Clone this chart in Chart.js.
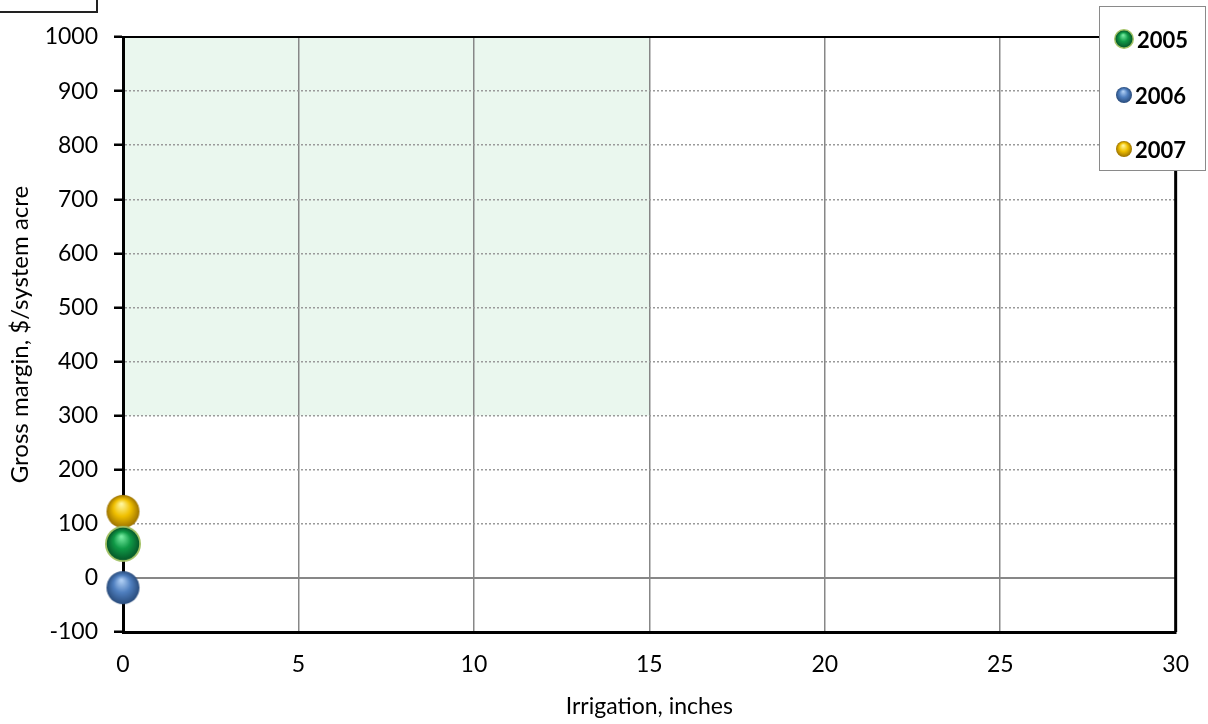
<!DOCTYPE html>
<html>
<head>
<meta charset="utf-8">
<script src="https://cdn.jsdelivr.net/npm/chart.js@4"></script>
<style>
  body { margin: 0; background: #fff; }
  #wrap { position: relative; width: 1208px; height: 724px; overflow: hidden; }
  #corner { position: absolute; left: -3px; top: -3px; width: 97px; height: 12px; border: 2px solid #222; }
  #legend { position: absolute; left: 1099px; top: 6px; width: 105px; height: 163px; border: 1.5px solid #8a8a8a; background: #fff; }
  .row { position: absolute; left: 0; height: 24px; display: flex; align-items: center; font: bold 22px Lato, sans-serif; color: #000; }
  .row canvas { margin-right: 2px; }
</style>
</head>
<body>
<div id="wrap">
  <canvas id="chart" width="1208" height="724"></canvas>
  <div id="corner"></div>
  <div id="legend"></div>
</div>
<script>
const years = ['2005', '2006', '2007'];
const irrigation = [0, 0, 0];
const grossMargin = [63, -18, 123];
const xTicks = [0, 5, 10, 15, 20, 25, 30];
const yTicks = [-100, 0, 100, 200, 300, 400, 500, 600, 700, 800, 900, 1000];
const shadeX = [0, 15];
const shadeY = [300, 1000];

const sphereColors = [
    { light: '#74ea9f', mid: '#109a47', dark: '#06592a', ring: '#a3c266' },
    { light: '#adcdf3', mid: '#4f7fbf', dark: '#294c7c' },
    { light: '#fff59a', mid: '#f0c000', dark: '#9c7200' }
];

// sphere images for points and legend
function makeSphere(c, r) {
    const pad = 1;
    const size = Math.ceil(2 * r + 2 * pad);
    const cv = document.createElement('canvas');
    cv.width = size;
    cv.height = size;
    const ctx = cv.getContext('2d');
    const cx = size / 2, cy = size / 2;
    let inner = r;
    if (c.ring) {
        ctx.beginPath();
        ctx.arc(cx, cy, r, 0, Math.PI * 2);
        ctx.fillStyle = c.ring;
        ctx.fill();
        inner = r - Math.max(1.5, r * 0.1);
    }
    const g = ctx.createRadialGradient(cx - inner * 0.1, cy - inner * 0.45, inner * 0.05, cx, cy, inner);
    g.addColorStop(0, c.light);
    g.addColorStop(0.5, c.mid);
    g.addColorStop(1, c.dark);
    ctx.beginPath();
    ctx.arc(cx, cy, inner, 0, Math.PI * 2);
    ctx.fillStyle = g;
    ctx.fill();
    return cv;
}

const legendEl = document.getElementById('legend');
const legendTops = [20, 76, 130];
years.forEach((y, i) => {
    const row = document.createElement('div');
    row.className = 'row';
    row.style.top = legendTops[i] + 'px';
    row.style.left = (sphereColors[i].ring ? 13 : 15) + 'px';
    row.appendChild(makeSphere(sphereColors[i], sphereColors[i].ring ? 10 : 8));
    const span = document.createElement('span');
    span.textContent = y;
    row.appendChild(span);
    legendEl.appendChild(row);
});

const plotDeco = {
    id: 'plotDeco',
    beforeDraw(chart) {
        const { ctx, scales: { x, y } } = chart;
        ctx.save();
        ctx.fillStyle = '#eaf7ee';
        const x0 = x.getPixelForValue(shadeX[0]), x1 = x.getPixelForValue(shadeX[1]);
        const y0 = y.getPixelForValue(shadeY[1]), y1 = y.getPixelForValue(shadeY[0]);
        ctx.fillRect(x0, y0, x1 - x0, y1 - y0);
        ctx.restore();
    },
    beforeDatasetsDraw(chart) {
        const { ctx, chartArea: a, scales: { y } } = chart;
        ctx.save();
        const yz = y.getPixelForValue(0);
        ctx.strokeStyle = '#878787';
        ctx.lineWidth = 2;
        ctx.beginPath();
        ctx.moveTo(a.left, yz);
        ctx.lineTo(a.right, yz);
        ctx.stroke();
        ctx.strokeStyle = '#000';
        ctx.lineWidth = 2;
        ctx.beginPath();
        ctx.moveTo(a.left, a.top);
        ctx.lineTo(a.right, a.top);
        ctx.stroke();
        ctx.lineWidth = 3;
        ctx.beginPath();
        ctx.moveTo(a.right, a.top);
        ctx.lineTo(a.right, a.bottom);
        ctx.stroke();
        ctx.restore();
    }
};

const tickFont = { family: 'Lato, sans-serif', size: 23 };

new Chart(document.getElementById('chart'), {
    type: 'scatter',
    data: {
        datasets: years.map((y, i) => ({
            label: y,
            data: [{ x: irrigation[i], y: grossMargin[i] }],
            pointStyle: makeSphere(sphereColors[i], sphereColors[i].ring ? 18 : 16.5),
            pointRadius: 17,
            clip: false
        }))
    },
    options: {
        responsive: false,
        animation: false,
        layout: { padding: { top: 37, right: 31, left: 0, bottom: 0 } },
        plugins: { legend: { display: false }, tooltip: { enabled: false } },
        scales: {
            x: {
                type: 'linear',
                min: 0,
                max: 30,
                afterBuildTicks: s => { s.ticks = xTicks.map(v => ({ value: v })); },
                afterFit: s => { s.height = 92; },
                grid: { color: '#878787', lineWidth: 1.5, drawTicks: false },
                border: { color: '#000', width: 3 },
                ticks: { color: '#000', font: tickFont, padding: 19, callback: v => String(v) },
                title: { display: true, text: 'Irrigation, inches', color: '#000', font: { family: 'Lato, sans-serif', size: 23 }, padding: { top: 0, bottom: 4 } }
            },
            y: {
                type: 'linear',
                min: -100,
                max: 1000,
                afterBuildTicks: s => { s.ticks = yTicks.map(v => ({ value: v })); },
                afterFit: s => { s.width = 123; },
                grid: { color: '#9a9a9a', lineWidth: 1.5, tickColor: '#000', tickWidth: 2.5, tickLength: 9, tickBorderDash: [] },
                border: { color: '#000', width: 3, dash: [2, 2] },
                ticks: { color: '#000', font: tickFont, padding: 16, callback: v => String(v) },
                title: { display: true, text: 'Gross margin, $/system acre', color: '#000', font: { family: 'Lato, sans-serif', size: 24 }, padding: { top: 6, bottom: 0 } }
            }
        }
    },
    plugins: [plotDeco]
});
</script>
</body>
</html>
